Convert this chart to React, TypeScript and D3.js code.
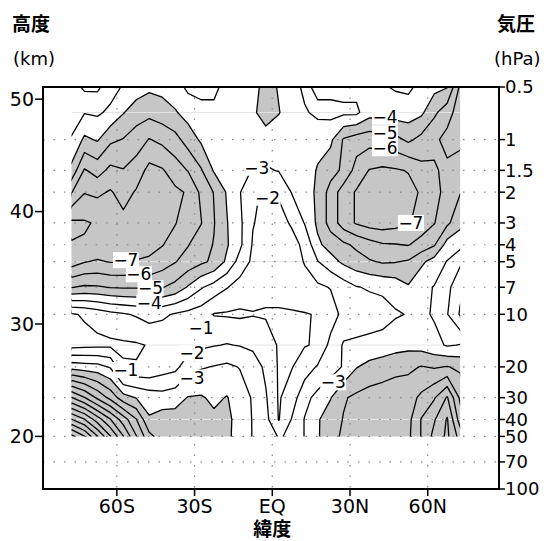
import React from "react";
import * as d3 from "d3";

// grid of the field: latitude columns, pressure rows (hPa)
const latitudes = [
  -77.5, -72.5, -67.5, -62.5, -57.5, -52.5, -47.5, -42.5, -37.5, -32.5, -27.5,
  -22.5, -17.5, -12.5, -7.5, -2.5, 2.5, 7.5, 12.5, 17.5, 22.5, 27.5, 32.5, 37.5,
  42.5, 47.5, 52.5, 57.5, 62.5, 67.5, 72.5,
];
const pressureLevels = [0.5, 0.7, 1, 1.5, 2, 3, 4, 5, 7, 10, 15, 20, 30, 40, 50];

// values, one row per pressure level (top to bottom)
const trend = [
  [-2.5, -1.8, -1.8, -2.6, -3.1, -3.5, -3.8, -3.7, -3.4, -2.8, -2.7, -2.8, -3.3, -3.6, -3.5, -4.5, -3.9, -3.4, -2.8, -3.2, -3.3, -3.3, -3.3, -3.2, -3.1, -2.9, -2.8, -3.3, -3.7, -3.95, -6.2],
  [-2.7, -2.95, -2.85, -3.2, -3.95, -4.5, -4.7, -4.45, -4.1, -3.6, -3.3, -3.2, -3.4, -3.6, -3.8, -4.5, -4.05, -3.5, -3.1, -2.8, -2.7, -2.8, -2.8, -3.6, -3.6, -3.5, -3.5, -3.8, -4.8, -5.6, -6.5],
  [-3.05, -4.2, -3.9, -4.8, -5.05, -5.5, -6.05, -5.75, -5.35, -4.55, -3.85, -3.5, -3.5, -3.4, -3.3, -3.5, -3.4, -3.3, -3.2, -3.6, -3.8, -5.1, -5.5, -5.6, -5.5, -5.3, -4.8, -5.3, -5.8, -6.3, -6.5],
  [-4.3, -6.1, -5.6, -6.25, -6.05, -6.45, -7.3, -7.1, -6.5, -5.95, -5.1, -3.9, -3.7, -3.3, -2.95, -2.9, -3.05, -3.2, -3.4, -4.1, -4.6, -5.2, -6.4, -7.05, -7.2, -7.1, -6.95, -6.3, -6.1, -5.8, -5.05],
  [-5.95, -6.95, -6.8, -7.1, -6.6, -7.1, -7.6, -7.6, -7.2, -6.9, -5.8, -4.95, -3.9, -3.05, -2.05, -1.95, -2.1, -3.05, -3.5, -4.2, -5.4, -6.5, -7.1, -7.4, -7.6, -7.5, -7.3, -6.9, -6.2, -5.8, -5.05],
  [-8.2, -8.1, -7.9, -7.6, -7.3, -7.6, -7.5, -7.3, -7.05, -6.5, -6.05, -5.05, -4.05, -3.2, -2.05, -1.7, -1.7, -2.1, -3.05, -4.2, -5.4, -6.5, -7.1, -7.4, -7.5, -7.35, -7.1, -6.6, -6.05, -5.2, -4.3],
  [-7.95, -7.9, -7.6, -7.4, -7.4, -7.4, -7.2, -7.05, -6.6, -6.05, -5.4, -4.95, -4.1, -3.2, -1.9, -1.6, -1.6, -1.7, -2.2, -3.8, -4.4, -4.8, -5.2, -5.6, -5.9, -5.95, -6.05, -5.6, -5.1, -3.6, -3.3],
  [-7.5, -7.05, -6.9, -7.05, -7.05, -6.95, -6.9, -6.5, -6.05, -5.6, -5.2, -4.8, -3.8, -2.6, -1.8, -1.5, -1.5, -1.6, -2.05, -2.95, -3.6, -4.2, -4.6, -4.9, -5.1, -5.05, -4.9, -4.2, -3.6, -2.95, -2.2],
  [-5.05, -4.85, -4.9, -5.05, -5.1, -5.1, -5.2, -5.05, -4.7, -3.9, -3.1, -2.6, -2.05, -1.6, -1.4, -1.3, -1.3, -1.5, -1.7, -1.8, -2.05, -2.5, -2.95, -3.1, -3.2, -3.4, -3.9, -3.3, -2.95, -2.3, -1.2],
  [-0.9, -1.1, -1.4, -1.7, -1.9, -2.1, -2.4, -2.2, -1.9, -1.7, -1.5, -0.95, -0.9, -0.85, -0.95, -0.9, -0.9, -0.9, -0.95, -1.05, -1.5, -2.3, -2.4, -2.5, -2.6, -2.9, -3.05, -3.2, -2.9, -2.05, -0.9],
  [-0.6, -0.7, -0.75, -0.8, -0.85, -0.9, -1.05, -1.2, -1.3, -1.5, -1.8, -1.95, -2.05, -1.95, -1.8, -1.5, -0.9, -0.9, -0.95, -1.1, -2.3, -3.1, -3.2, -3.3, -3.4, -3.6, -3.7, -3.6, -3.3, -2.9, -3.05],
  [-3.6, -3.45, -3.35, -2.9, -1.1, -1.05, -1.1, -1.5, -1.7, -2.6, -2.9, -3.05, -3.2, -2.95, -2.5, -1.8, -0.9, -0.95, -1.5, -2.1, -2.5, -3.1, -3.95, -4.3, -4.5, -4.7, -4.8, -5.05, -4.9, -5.05, -4.8],
  [-9.05, -8.05, -6.8, -5.7, -4.4, -3.95, -3.6, -3.4, -3.6, -4.05, -4.1, -3.8, -4.05, -3.5, -2.9, -2.1, -0.9, -1.5, -2.7, -3.3, -3.95, -4.9, -5.2, -5.4, -5.5, -5.6, -5.6, -6.2, -6.9, -8.1, -5.8],
  [-13.05, -12.05, -10.5, -9.05, -7.5, -6.05, -4.1, -4.5, -4.4, -4.3, -4.4, -4.2, -4.3, -3.5, -2.95, -2.3, -0.95, -2.05, -3.05, -3.9, -4.5, -5.05, -5.3, -5.4, -5.5, -5.6, -5.7, -7.05, -7.9, -9.1, -6.5],
  [-16.3, -15.05, -13.05, -11.05, -9.05, -7.05, -5.3, -4.5, -4.5, -4.4, -4.5, -4.5, -4.2, -3.6, -2.95, -2.4, -1.95, -2.1, -3.05, -3.9, -4.6, -5.2, -5.4, -5.5, -5.6, -5.7, -5.8, -7.05, -8.3, -9.2, -7.6],
];

const contourValues = [-1, -2, -3, -4, -5, -6, -7, -8, -9, -10, -11, -12, -13, -14, -15, -16, -17];
const shadeLimit = -4;

const latTicks = [-60, -30, 0, 30, 60];
const latTickLabels = ["60S", "30S", "EQ", "30N", "60N"];
const pressureTicks = [0.5, 1, 1.5, 2, 3, 4, 5, 7, 10, 20, 30, 40, 50, 70, 100];
const gridPressures = [1, 1.5, 2, 3, 4, 5, 7, 10, 20, 30, 40, 50, 70];
const heightTicks = [20, 30, 40, 50];
const faintLevels = [0.7, 5, 15, 40];

const labelLats = [-6, -1.8, 43.5, 43.5, 43.5, 53.5, -56.5, -51.5, -47, -47.5, -27.5, -31, -31, -56.5, 23.5];
const labelPressures = [1.45, 2.15, 0.74, 0.92, 1.12, 3.0, 4.9, 5.9, 7.1, 8.6, 11.9, 16.7, 23, 20.8, 24.5];
const labelTexts = ["−3", "−2", "−4", "−5", "−6", "−7", "−7", "−6", "−5", "−4", "−1", "−2", "−3", "−1", "−3"];

const numFont = "'DejaVu Sans', sans-serif";
const cjkFont = "'Noto Sans CJK JP', 'Noto Sans CJK SC', sans-serif";

export default function App() {
  const width = 549;
  const height = 541;
  const left = 43, right = 499, top = 87, bottom = 489;

  const x = d3.scaleLinear().domain([-88.5, 87.5]).range([left, right]);
  const y = d3.scaleLog().domain([0.5, 100]).range([top, bottom]);
  const kmToP = (z: number) => 50 * Math.exp(-(z - 20) / 6.75);

  const nx = latitudes.length;
  const ny = pressureLevels.length;
  const flat = trend.flat().map((v) => -v);
  const lines = d3.contours().size([nx, ny]).thresholds(contourValues.map((v) => -v))(flat);
  const shade = d3.contours().size([nx, ny]).contour(flat, -shadeLimit);

  const colX = latitudes.map((l) => x(l));
  const rowY = pressureLevels.map((p) => y(p));
  const interp = (arr: number[], f: number) => {
    const i = Math.max(0, Math.min(arr.length - 2, Math.floor(f)));
    return arr[i] + (f - i) * (arr[i + 1] - arr[i]);
  };
  const toPath = (g: any) =>
    g.coordinates
      .map((poly: any) =>
        poly
          .map((ring: any) => "M" + ring.map((pt: number[]) => interp(colX, pt[0] - 0.5).toFixed(2) + "," + interp(rowY, pt[1] - 0.5).toFixed(2)).join("L") + "Z")
          .join("")
      )
      .join("");

  const x0 = colX[0], x1 = colX[nx - 1];
  const y0 = rowY[0], y1 = rowY[ny - 1];

  return (
    <svg width={width} height={height} style={{ position: "absolute", left: 0, top: 0, background: "#fff" }}>
      <defs>
        <clipPath id="dataClip">
          <rect x={x0} y={y0} width={x1 - x0} height={y1 - y0} />
        </clipPath>
      </defs>
      <rect x={0} y={0} width={width} height={height} fill="#fff" />

      <g clipPath="url(#dataClip)">
        <path d={toPath(shade)} fill="#c6c6c6" stroke="none" />
        {faintLevels.map((p) => (
          <line key={p} x1={x0} x2={x1} y1={y(p)} y2={y(p)} stroke="#e4e4e4" strokeWidth={1} />
        ))}
      </g>

      {/* dotted grid */}
      <g stroke="#8a8a8a" strokeWidth={1.2} strokeDasharray="1.5 9">
        {gridPressures.map((p) => (
          <line key={p} x1={left} x2={right} y1={y(p)} y2={y(p)} />
        ))}
        {latTicks.map((l) => (
          <line key={l} x1={x(l)} x2={x(l)} y1={top} y2={bottom} />
        ))}
      </g>

      <g clipPath="url(#dataClip)" fill="none" stroke="#000" strokeWidth={1.3} strokeLinejoin="round">
        {lines.map((c, i) => (
          <path key={i} d={toPath(c)} />
        ))}
      </g>

      {/* contour labels */}
      <g fontFamily={numFont} fontSize={17} textAnchor="middle">
        {labelTexts.map((t, i) => (
          <g key={i} transform={`translate(${x(labelLats[i])},${y(labelPressures[i])})`}>
            <rect x={-13} y={-8} width={26} height={16} fill="#fff" />
            <text dy="0.36em">{t}</text>
          </g>
        ))}
      </g>

      {/* frame */}
      <rect x={left} y={top} width={right - left} height={bottom - top} fill="none" stroke="#000" strokeWidth={2} />

      {/* left axis: height km */}
      <g fontFamily={numFont} fontSize={19}>
        {heightTicks.map((z) => (
          <g key={z} transform={`translate(0,${y(kmToP(z))})`}>
            <line x1={left - 8} x2={left} stroke="#000" strokeWidth={1.5} />
            <text x={left - 9} dy="0.36em" textAnchor="end">{z}</text>
          </g>
        ))}
      </g>

      {/* right axis: pressure hPa */}
      <g fontFamily={numFont} fontSize={18}>
        {pressureTicks.map((p) => (
          <g key={p} transform={`translate(0,${y(p)})`}>
            <line x1={right} x2={right + 6} stroke="#000" strokeWidth={1.5} />
            <text x={right + 6} dy="0.36em">{p}</text>
          </g>
        ))}
      </g>

      {/* bottom axis: latitude */}
      <g fontFamily={numFont} fontSize={19} textAnchor="middle">
        {latTicks.map((l, i) => (
          <g key={l} transform={`translate(${x(l)},0)`}>
            <line y1={bottom} y2={bottom + 7} stroke="#000" strokeWidth={1.5} />
            <text y={bottom + 24}>{latTickLabels[i]}</text>
          </g>
        ))}
      </g>

      <g fontFamily={cjkFont} fontSize={19} fontWeight="bold">
        <text x={12} y={31}>高度</text>
        <text x={497} y={31}>気圧</text>
        <text x={x(0)} y={536} textAnchor="middle">緯度</text>
      </g>
      <g fontFamily={numFont} fontSize={18}>
        <text x={13} y={65}>(km)</text>
        <text x={494} y={65}>(hPa)</text>
      </g>
    </svg>
  );
}
